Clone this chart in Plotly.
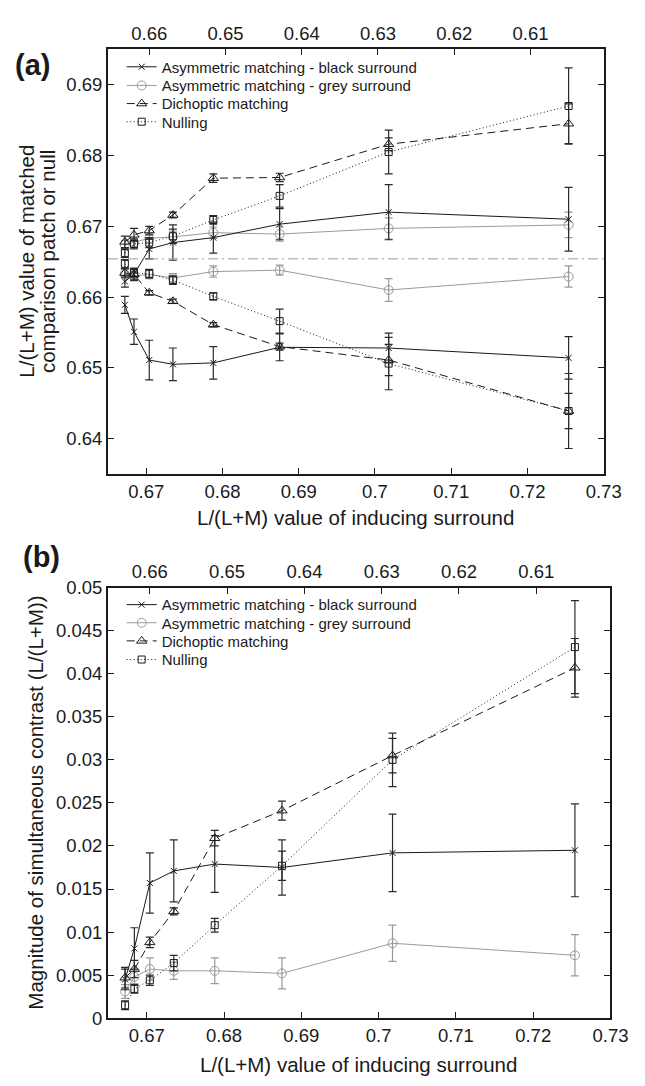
import plotly.graph_objects as go

# ---------------- data ----------------
x_surround = [0.6672, 0.6684, 0.6704, 0.6735, 0.6788, 0.6875, 0.7018, 0.7254]
top_ticks = [0.66, 0.65, 0.64, 0.63, 0.62, 0.61]
top_offset = 1.3304          # top-axis value = top_offset - bottom value
test_value = 0.6654          # dash-dot reference line (panel a)

series_names = ["Asymmetric matching - black surround",
                "Asymmetric matching - grey surround",
                "Dichoptic matching",
                "Nulling"]

# Panel (a): matched values, upper and lower branches
black_up = [0.6622, 0.6632, 0.6668, 0.6677, 0.6684, 0.6703, 0.6720, 0.6710]
black_up_err = [0.0008, 0.0008, 0.0014, 0.0025, 0.0022, 0.0022, 0.0039, 0.0045]
black_lo = [0.6589, 0.6551, 0.6511, 0.6505, 0.6507, 0.6529, 0.6528, 0.6514]
black_lo_err = [0.0012, 0.0018, 0.0028, 0.0023, 0.0023, 0.0019, 0.0021, 0.0030]

grey_up = [0.6674, 0.6677, 0.6683, 0.6685, 0.6691, 0.6689, 0.6697, 0.6702]
grey_up_err = [0.0006, 0.0006, 0.0007, 0.0008, 0.0008, 0.0010, 0.0015, 0.0018]
grey_lo = [0.6633, 0.6630, 0.6632, 0.6627, 0.6636, 0.6638, 0.6610, 0.6629]
grey_lo_err = [0.0006, 0.0007, 0.0006, 0.0006, 0.0008, 0.0007, 0.0016, 0.0015]

dich_up = [0.6678, 0.6688, 0.6694, 0.6716, 0.6768, 0.6769, 0.6816, 0.6845]
dich_up_err = [0.0008, 0.0009, 0.0006, 0.0004, 0.0006, 0.0006, 0.0009, 0.0028]
dich_lo = [0.6634, 0.6632, 0.6606, 0.6594, 0.6561, 0.6530, 0.6511, 0.6439]
dich_lo_err = [0.0006, 0.0008, 0.0003, 0.0003, 0.0003, 0.0005, 0.0022, 0.0025]

null_up = [0.6662, 0.6675, 0.6677, 0.6686, 0.6709, 0.6743, 0.6805, 0.6870]
null_up_err = [0.0006, 0.0007, 0.0007, 0.0010, 0.0006, 0.0016, 0.0031, 0.0054]
null_lo = [0.6647, 0.6634, 0.6633, 0.6624, 0.6601, 0.6566, 0.6506, 0.6439]
null_lo_err = [0.0006, 0.0007, 0.0006, 0.0006, 0.0005, 0.0017, 0.0037, 0.0053]

# Panel (b): magnitude of simultaneous contrast
black_b = [0.0045, 0.0081, 0.0157, 0.0171, 0.0179, 0.0175, 0.0192, 0.0195]
black_b_err = [0.0012, 0.0024, 0.0035, 0.0036, 0.0033, 0.0032, 0.0045, 0.0054]
grey_b = [0.0031, 0.0048, 0.0057, 0.0055, 0.0055, 0.0052, 0.0087, 0.0073]
grey_b_err = [0.0008, 0.0008, 0.0013, 0.0010, 0.0015, 0.0018, 0.0021, 0.0024]
dich_b = [0.0047, 0.0057, 0.0088, 0.0124, 0.0209, 0.0241, 0.0305, 0.0407]
dich_b_err = [0.0012, 0.0010, 0.0006, 0.0004, 0.0009, 0.0011, 0.0020, 0.0034]
null_b = [0.0015, 0.0034, 0.0044, 0.0064, 0.0108, 0.0177, 0.0300, 0.0431]
null_b_err = [0.0005, 0.0005, 0.0006, 0.0009, 0.0008, 0.0017, 0.0031, 0.0054]

x_ticks = [0.67, 0.68, 0.69, 0.70, 0.71, 0.72, 0.73]
x_ticktext = ["0.67", "0.68", "0.69", "0.7", "0.71", "0.72", "0.73"]
ya_ticks = [0.64, 0.65, 0.66, 0.67, 0.68, 0.69]
yb_ticks = [0, 0.005, 0.01, 0.015, 0.02, 0.025, 0.03, 0.035, 0.04, 0.045, 0.05]
yb_ticktext = ["0", "0.005", "0.01", "0.015", "0.02", "0.025", "0.03",
               "0.035", "0.04", "0.045", "0.05"]

# ---------------- styles ----------------
FONT = "Liberation Sans, Arial, sans-serif"
TXT = "#1a1a1a"
GREY = "#9a9a9a"
styles = [
    dict(color="#1a1a1a", dash="solid", symbol="x-thin-open", size=6, ecol="#2a2a2a"),
    dict(color=GREY, dash="solid", symbol="circle-open", size=9, ecol=GREY),
    dict(color="#1a1a1a", dash="8px,5px", symbol="triangle-up-open", size=9, ecol="#2a2a2a"),
    dict(color="#1a1a1a", dash="1px,2.5px", symbol="square-open", size=7, ecol="#2a2a2a"),
]

# page body has an 8px margin: place everything in screen pixel terms
OFF = 8
W, H = 637, 1078
def px(v): return (v - OFF) / W
def py(v): return 1 - (v - OFF) / H

legend_rows_a = [57, 76, 94.5, 113]
legend_rows_b = [605.5, 624, 642.5, 661.5]
legend_left = 125

fig = go.Figure()

panel_a = [(black_up, black_up_err, black_lo, black_lo_err),
           (grey_up, grey_up_err, grey_lo, grey_lo_err),
           (dich_up, dich_up_err, dich_lo, dich_lo_err),
           (null_up, null_up_err, null_lo, null_lo_err)]
panel_b = [(black_b, black_b_err), (grey_b, grey_b_err),
           (dich_b, dich_b_err), (null_b, null_b_err)]

order = [1, 0, 2, 3]
for i in order:
    s = styles[i]
    up, ue, lo, le = panel_a[i]
    fig.add_trace(go.Scatter(
        x=x_surround + [None] + x_surround,
        y=up + [None] + lo,
        mode="lines+markers",
        name=series_names[i],
        legend=f"legend{i + 1}" if i > 0 else "legend",
        line=dict(color=s["color"], width=1, dash=s["dash"]),
        marker=dict(symbol=s["symbol"], size=s["size"], color=s["color"],
                    line=dict(color=s["color"], width=1)),
        error_y=dict(type="data", array=ue + [None] + le, visible=True,
                     color=s["ecol"], thickness=1.2, width=4),
        xaxis="x", yaxis="y", connectgaps=False,
    ))
for i in order:
    s = styles[i]
    v, e = panel_b[i]
    fig.add_trace(go.Scatter(
        x=x_surround, y=v,
        mode="lines+markers",
        name=series_names[i],
        legend=f"legend{i + 5}",
        line=dict(color=s["color"], width=1, dash=s["dash"]),
        marker=dict(symbol=s["symbol"], size=s["size"], color=s["color"],
                    line=dict(color=s["color"], width=1)),
        error_y=dict(type="data", array=e, visible=True,
                     color=s["ecol"], thickness=1.2, width=4),
        xaxis="x3", yaxis="y3",
    ))

# hidden helper traces so the top (secondary) axes get drawn
for xa, ya in (("x2", "y"), ("x4", "y3")):
    fig.add_trace(go.Scatter(x=top_ticks, y=[None] * len(top_ticks), xaxis=xa, yaxis=ya,
                             mode="markers", showlegend=False, hoverinfo="skip"))

tickfont = dict(family=FONT, size=18.5, color=TXT)
axis_common = dict(showgrid=False, zeroline=False, showline=True, linecolor="#1a1a1a",
                   linewidth=2, ticks="inside", ticklen=6, tickwidth=1.2,
                   tickcolor="#1a1a1a", tickfont=tickfont)

dom_a_x = [px(111), px(621)]
dom_a_y = [py(472), py(39)]
dom_b_x = [px(111), px(628)]
dom_b_y = [py(1027), py(588)]
xr = [0.665, 0.73]

layout = dict(
    width=W, height=H, margin=dict(l=0, r=0, t=0, b=0),
    paper_bgcolor="white", plot_bgcolor="white",
    font=dict(family=FONT, color=TXT),
    xaxis=dict(axis_common, domain=dom_a_x, range=xr, anchor="y",
               tickvals=x_ticks, ticktext=x_ticktext, mirror=False),
    xaxis2=dict(axis_common, domain=dom_a_x, overlaying="x", side="top", anchor="y",
                range=[top_offset - xr[0], top_offset - xr[1]],
                tickvals=top_ticks, ticktext=[f"{t:.2f}" for t in top_ticks]),
    yaxis=dict(axis_common, domain=dom_a_y, range=[0.635, 0.695], anchor="x",
               tickvals=ya_ticks, ticktext=[f"{t:.2f}" for t in ya_ticks], mirror="ticks"),
    xaxis3=dict(axis_common, domain=dom_b_x, range=xr, anchor="y3",
                tickvals=x_ticks, ticktext=x_ticktext, mirror=False),
    xaxis4=dict(axis_common, domain=dom_b_x, overlaying="x3", side="top", anchor="y3",
                range=[top_offset - xr[0], top_offset - xr[1]],
                tickvals=top_ticks, ticktext=[f"{t:.2f}" for t in top_ticks]),
    yaxis3=dict(axis_common, domain=dom_b_y, range=[0, 0.05], anchor="x3",
                tickvals=yb_ticks, ticktext=yb_ticktext, mirror="ticks"),
    showlegend=True,
)
rows = legend_rows_a + legend_rows_b
for k, r in enumerate(rows):
    key = "legend" if k == 0 else f"legend{k + 1}"
    layout[key] = dict(x=px(legend_left), y=py(r), xanchor="left", yanchor="middle",
                       bgcolor="rgba(0,0,0,0)", borderwidth=0,
                       font=dict(family=FONT, size=15, color=TXT))
fig.update_layout(**layout)

# dash-dot reference line in panel (a)
fig.add_shape(type="line", xref="x domain", yref="y", x0=0, x1=1,
              y0=test_value, y1=test_value,
              line=dict(color=GREY, width=1, dash="10px,4px,2px,4px"))

ann = []
def add_text(text, x, y, size, angle=0, bold=False):
    if bold:
        text = f"<b>{text}</b>"
    ann.append(dict(text=text, x=px(x), y=py(y), xref="paper", yref="paper",
                    showarrow=False, textangle=angle, xanchor="center", yanchor="middle",
                    font=dict(family=FONT, size=size, color=TXT)))

add_text("(a)", 33, 55, 29, bold=True)
add_text("(b)", 42, 557, 29, bold=True)
add_text("L/(L+M) value of matched", 27, 255, 20.5, angle=-90)
add_text("comparison patch or null", 48, 255, 20.5, angle=-90)
add_text("L/(L+M) value of inducing surround", 366, 516, 20.5)
add_text("Magnitude of simultaneous contrast (L/(L+M))", 36, 807, 20.5, angle=-90)
add_text("L/(L+M) value of inducing surround", 369, 1074, 20.5)
fig.update_layout(annotations=ann)

fig.write_html("out.html")
